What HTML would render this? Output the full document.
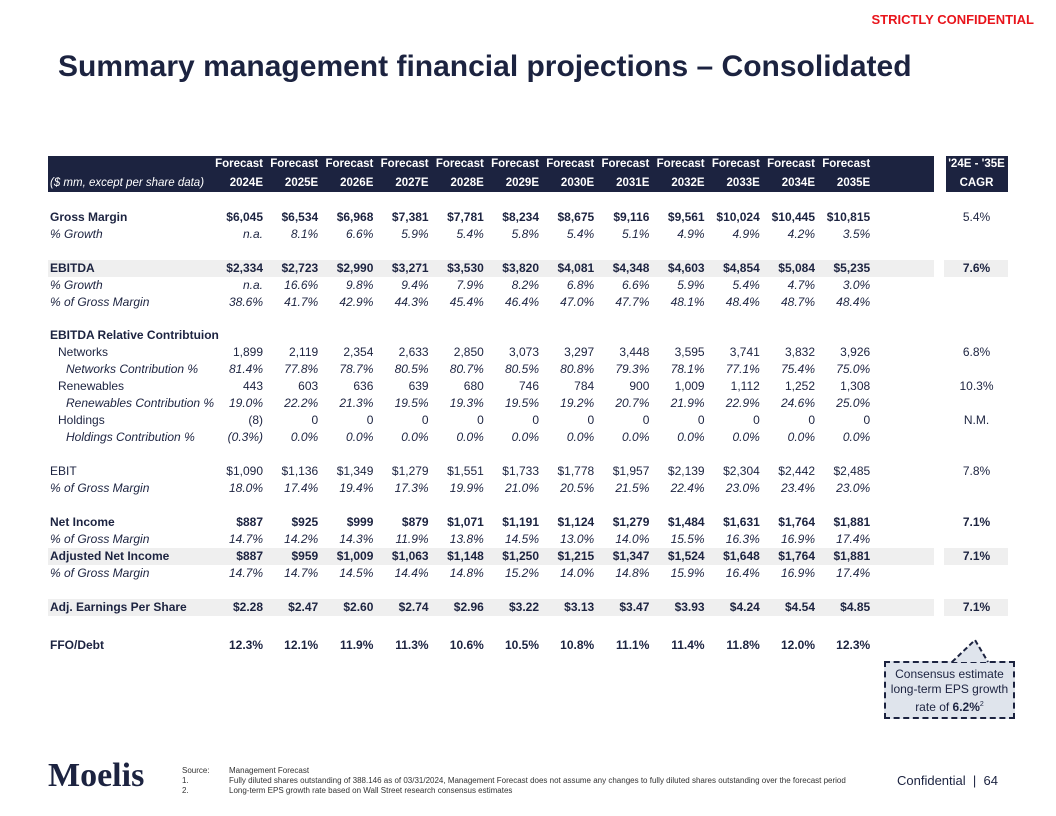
<!DOCTYPE html>
<html><head><meta charset="utf-8">
<style>
body{margin:0;width:1056px;height:816px;position:relative;background:#fff;font-family:"Liberation Sans",sans-serif;color:#1c2340;overflow:hidden}
.abs{position:absolute;white-space:nowrap}
.r{position:absolute;font-size:12px;line-height:17px;height:17px}
.c{position:absolute;text-align:right;width:60px}
.cc{position:absolute;text-align:center;width:61px;left:946px}
.b{font-weight:bold}.i{font-style:italic}
.hd{font-size:11.5px}
</style></head><body>
<div class="abs b" style="right:22px;top:12px;color:#e8141b;font-size:13px">STRICTLY CONFIDENTIAL</div>
<div class="abs b" style="left:58px;top:50px;font-size:30px;color:#1c2340">Summary management financial projections – Consolidated</div>
<div class="abs" style="left:48px;top:156px;width:886px;height:36px;background:#1c2340"></div>
<div class="abs" style="left:946px;top:156px;width:62px;height:36px;background:#1c2340"></div>
<div id="tbl"></div>
<div class="abs" style="left:884px;top:661px;width:127px;height:50px;background:#dfe4ec;border:2px dashed #1c2340;font-size:12px;text-align:center;line-height:15px;padding-top:4px;white-space:normal;color:#1c2340">Consensus estimate long-term EPS growth rate of <b>6.2%</b><sup style="font-size:7px">2</sup></div>
<svg class="abs" style="left:950px;top:636px" width="40" height="28"><polygon points="2,26 25,4 38,26" fill="#dfe4ec"/><polyline points="2,26 25,4 38,26" fill="none" stroke="#1c2340" stroke-width="2" stroke-dasharray="5,3"/></svg>
<div class="abs" style="left:48px;top:757px;font-family:'Liberation Serif',serif;font-size:34px;font-weight:bold;color:#1c2340">Moelis</div>
<div class="abs" style="left:182px;top:766px;font-size:8px;line-height:10px;color:#333">
<div>Source:<span style="position:absolute;left:47px">Management Forecast</span></div>
<div>1.<span style="position:absolute;left:47px">Fully diluted shares outstanding of 388.146 as of 03/31/2024, Management Forecast does not assume any changes to fully diluted shares outstanding over the forecast period</span></div>
<div>2.<span style="position:absolute;left:47px">Long-term EPS growth rate based on Wall Street research consensus estimates</span></div></div>
<div class="abs" style="left:897px;top:773px;font-size:13px;color:#1c2340">Confidential &nbsp;|&nbsp; 64</div>
<script>
const years=["2024E","2025E","2026E","2027E","2028E","2029E","2030E","2031E","2032E","2033E","2034E","2035E"];
const rows=[
["Gross Margin",218,"b",0,["$6,045","$6,534","$6,968","$7,381","$7,781","$8,234","$8,675","$9,116","$9,561","$10,024","$10,445","$10,815"],"5.4%"],
["% Growth",235,"i",0,["n.a.","8.1%","6.6%","5.9%","5.4%","5.8%","5.4%","5.1%","4.9%","4.9%","4.2%","3.5%"],""],
["EBITDA",269,"b",1,["$2,334","$2,723","$2,990","$3,271","$3,530","$3,820","$4,081","$4,348","$4,603","$4,854","$5,084","$5,235"],"7.6%"],
["% Growth",286,"i",0,["n.a.","16.6%","9.8%","9.4%","7.9%","8.2%","6.8%","6.6%","5.9%","5.4%","4.7%","3.0%"],""],
["% of Gross Margin",303,"i",0,["38.6%","41.7%","42.9%","44.3%","45.4%","46.4%","47.0%","47.7%","48.1%","48.4%","48.7%","48.4%"],""],
["EBITDA Relative Contribtuion",336,"b",0,[],""],
["Networks",353,"n1",0,["1,899","2,119","2,354","2,633","2,850","3,073","3,297","3,448","3,595","3,741","3,832","3,926"],"6.8%"],
["Networks Contribution %",370,"i2",0,["81.4%","77.8%","78.7%","80.5%","80.7%","80.5%","80.8%","79.3%","78.1%","77.1%","75.4%","75.0%"],""],
["Renewables",387,"n1",0,["443","603","636","639","680","746","784","900","1,009","1,112","1,252","1,308"],"10.3%"],
["Renewables Contribution %",404,"i2",0,["19.0%","22.2%","21.3%","19.5%","19.3%","19.5%","19.2%","20.7%","21.9%","22.9%","24.6%","25.0%"],""],
["Holdings",421,"n1",0,["(8)","0","0","0","0","0","0","0","0","0","0","0"],"N.M."],
["Holdings Contribution %",438,"i2",0,["(0.3%)","0.0%","0.0%","0.0%","0.0%","0.0%","0.0%","0.0%","0.0%","0.0%","0.0%","0.0%"],""],
["EBIT",472,"n",0,["$1,090","$1,136","$1,349","$1,279","$1,551","$1,733","$1,778","$1,957","$2,139","$2,304","$2,442","$2,485"],"7.8%"],
["% of Gross Margin",489,"i",0,["18.0%","17.4%","19.4%","17.3%","19.9%","21.0%","20.5%","21.5%","22.4%","23.0%","23.4%","23.0%"],""],
["Net Income",523,"b",0,["$887","$925","$999","$879","$1,071","$1,191","$1,124","$1,279","$1,484","$1,631","$1,764","$1,881"],"7.1%"],
["% of Gross Margin",540,"i",0,["14.7%","14.2%","14.3%","11.9%","13.8%","14.5%","13.0%","14.0%","15.5%","16.3%","16.9%","17.4%"],""],
["Adjusted Net Income",557,"b",1,["$887","$959","$1,009","$1,063","$1,148","$1,250","$1,215","$1,347","$1,524","$1,648","$1,764","$1,881"],"7.1%"],
["% of Gross Margin",574,"i",0,["14.7%","14.7%","14.5%","14.4%","14.8%","15.2%","14.0%","14.8%","15.9%","16.4%","16.9%","17.4%"],""],
["Adj. Earnings Per Share",608,"b",1,["$2.28","$2.47","$2.60","$2.74","$2.96","$3.22","$3.13","$3.47","$3.93","$4.24","$4.54","$4.85"],"7.1%"],
["FFO/Debt",646,"b",0,["12.3%","12.1%","11.9%","11.3%","10.6%","10.5%","10.8%","11.1%","11.4%","11.8%","12.0%","12.3%"],""]
];
const t=document.getElementById('tbl');
function colRight(i){return 263+i*55.2;}
function cell(txt,right,top,cls,color){const d=document.createElement('div');d.className='c r '+cls;d.style.left=(right-60)+'px';d.style.top=top+'px';if(color)d.style.color=color;d.textContent=txt;t.appendChild(d);return d;}
function ccell(txt,top,cls,color){const d=document.createElement('div');d.className='cc r '+cls;d.style.top=top+'px';if(color)d.style.color=color;d.textContent=txt;t.appendChild(d);return d;}
years.forEach((y,i)=>{
 const a=cell('Forecast',colRight(i),156,'b hd','#fff');
 
 
 const b=cell(y,colRight(i),175,'b hd','#fff');
 
 
});
const h1=ccell("'24E - '35E",156,'b hd','#fff');


const h2=ccell('CAGR',175,'b hd','#fff');


const u=document.createElement('div');u.className='r i hd';u.style.left='50px';u.style.top='175px';u.style.color='#fff';u.textContent='($ mm, except per share data)';


t.appendChild(u);
rows.forEach(r=>{
 const [label,y,st,shade,vals,cagr]=r;const top=y-9;
 if(shade){
 const s=document.createElement('div');s.className='abs';s.style.cssText='left:48px;width:886px;height:17px;background:#efefef;top:'+top+'px';
 
 
 t.appendChild(s);
 const s2=document.createElement('div');s2.className='abs';s2.style.cssText='left:944px;width:64px;height:17px;background:#efefef;top:'+top+'px';
 
 
 t.appendChild(s2);}
 const l=document.createElement('div');l.className='r';
 l.style.top=top+'px';l.style.left=(st==='n1'?58:st==='i2'?66:50)+'px';
 if(st==='b')l.style.fontWeight='bold';
 if(st[0]==='i')l.style.fontStyle='italic';
 l.textContent=label;
 
 
 t.appendChild(l);
 vals.forEach((v,i)=>{const c=cell(v,colRight(i),top,st==='b'?'b':(st[0]==='i'?'i':''));
 
 });
 if(cagr){const c=ccell(cagr,top,(label==='EBITDA'||label.indexOf('Net Income')>=0||label.indexOf('Share')>=0)?'b':'');
 
 }
});
</script>
</body></html>
